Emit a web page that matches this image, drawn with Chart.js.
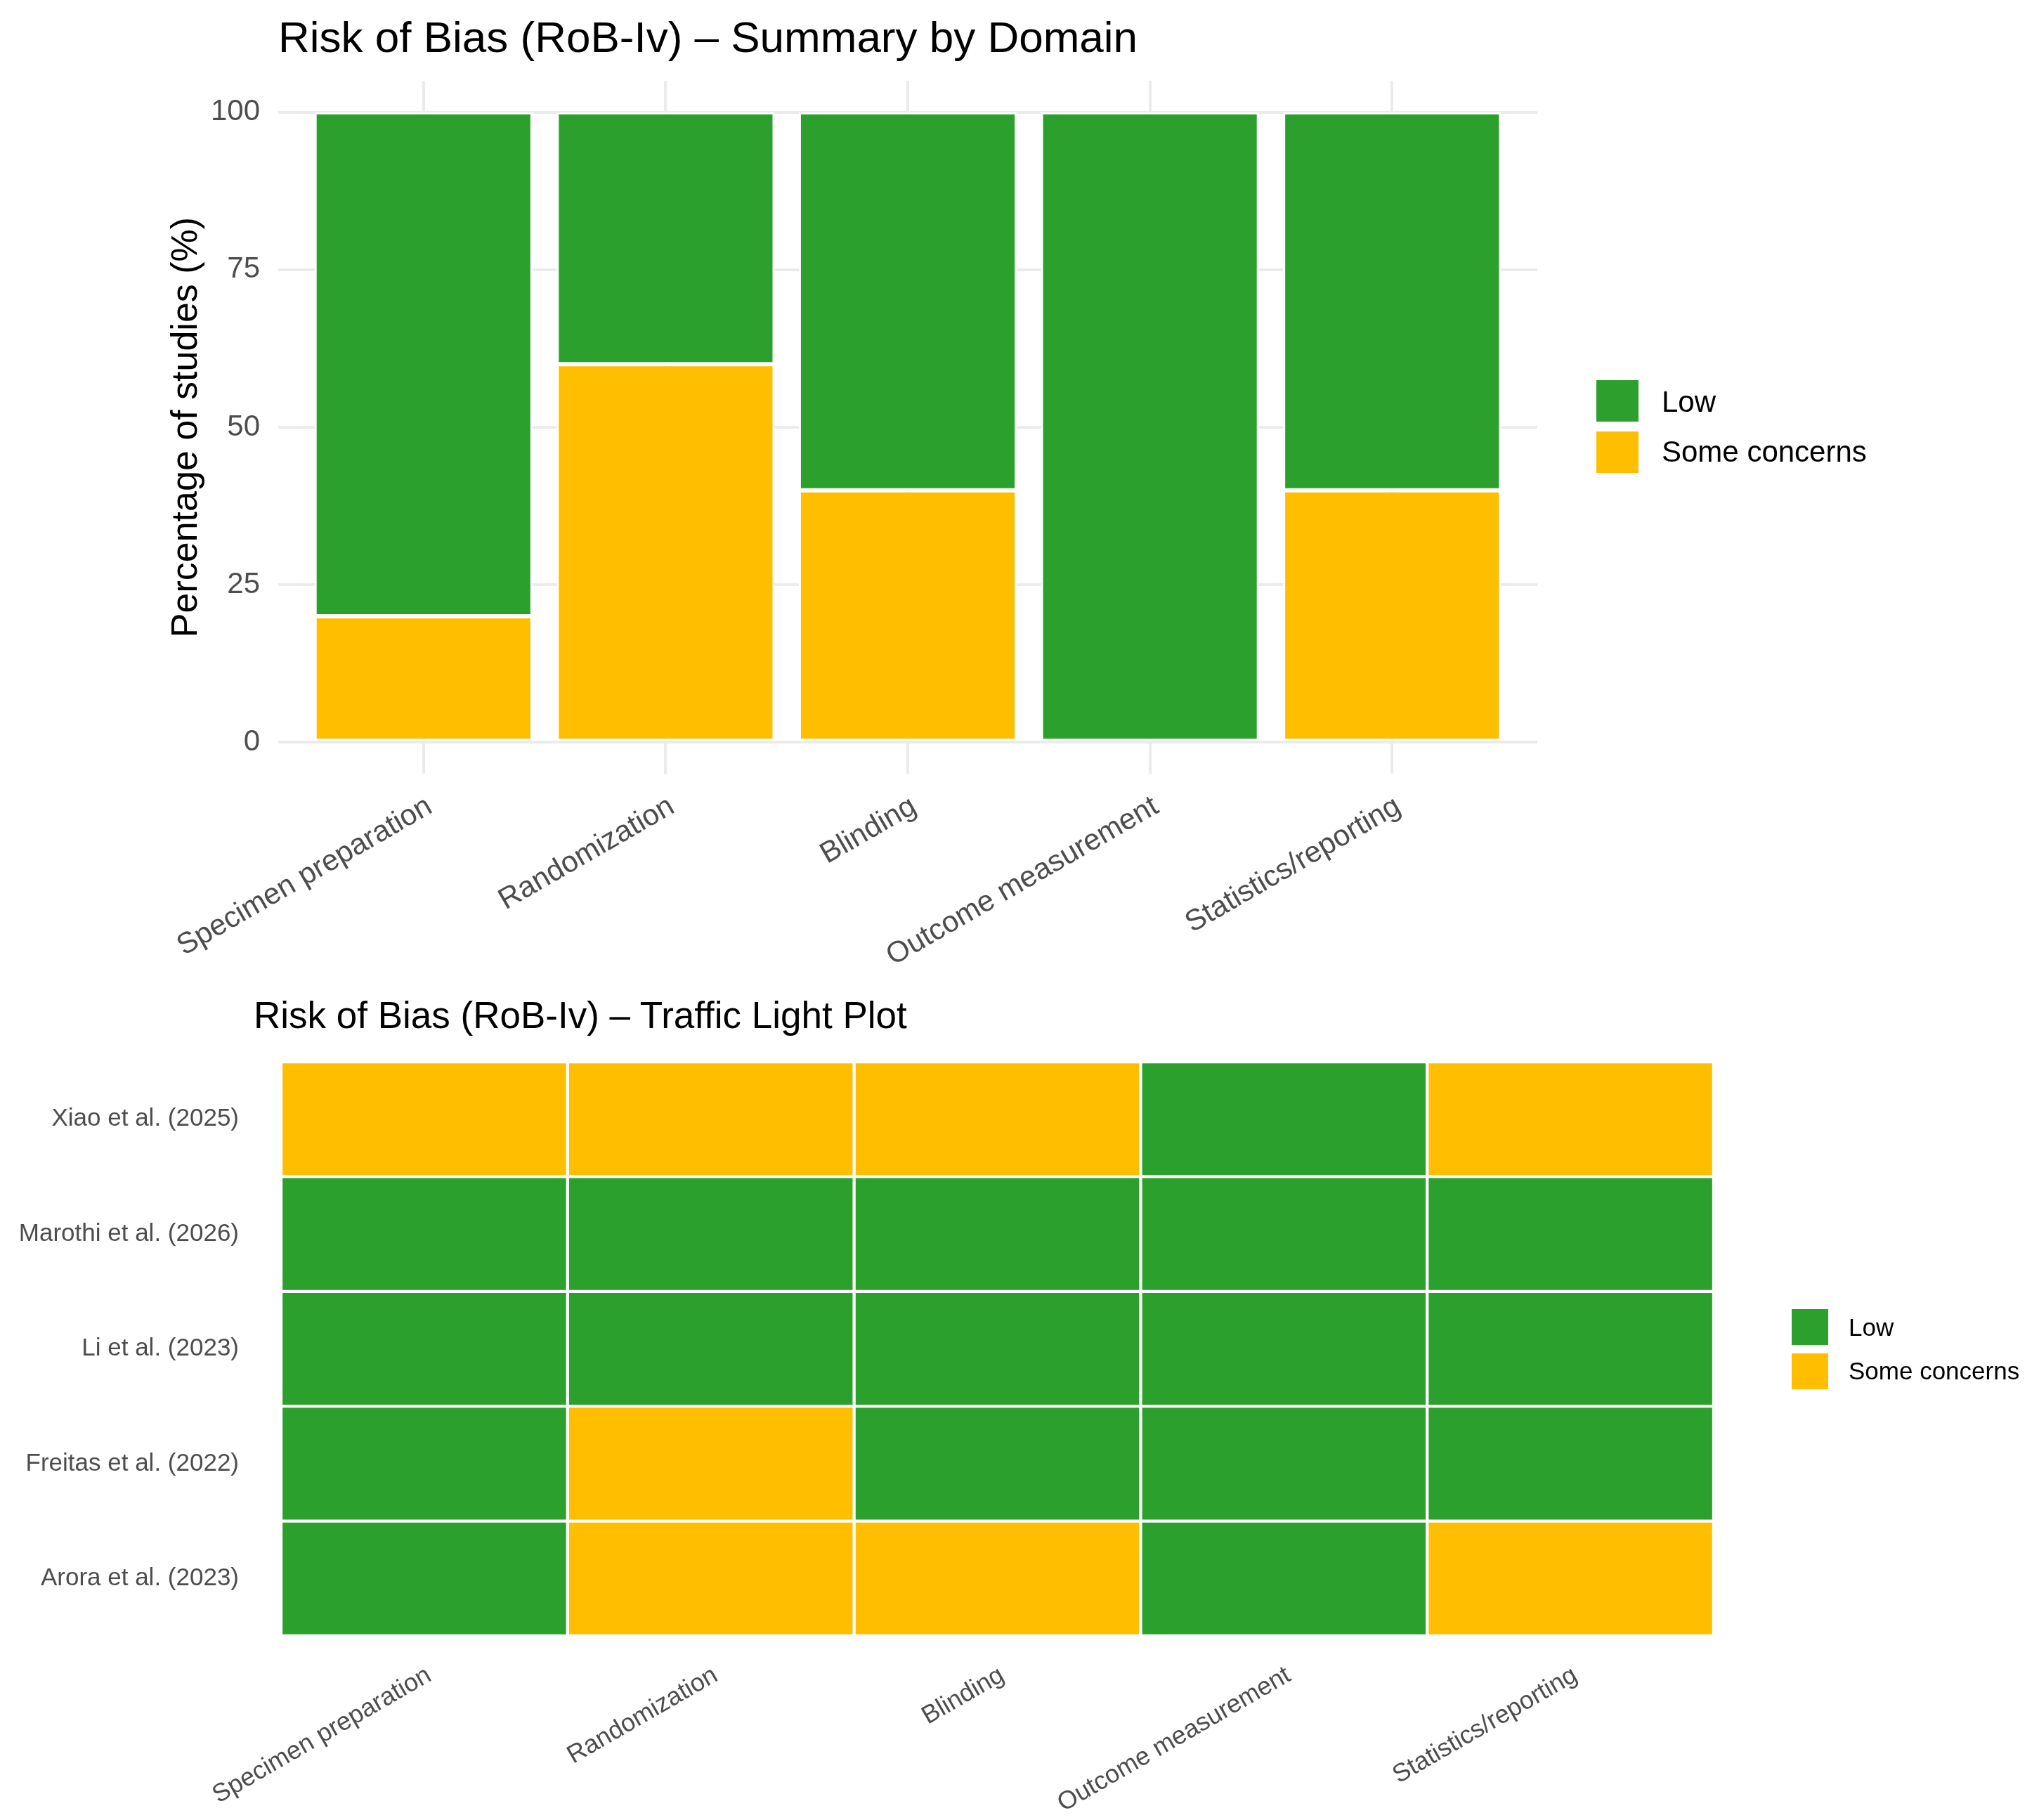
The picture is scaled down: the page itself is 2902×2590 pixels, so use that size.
<!DOCTYPE html>
<html>
<head>
<meta charset="utf-8">
<title>Risk of Bias (RoB-Iv)</title>
<script src="https://cdn.jsdelivr.net/npm/chart.js@4.4.1/dist/chart.umd.min.js"></script>
<style>
  html, body { margin: 0; padding: 0; background: #fff; }
  body { width: 2902px; height: 2590px; position: relative; overflow: hidden; font-family: 'Liberation Sans', Arial, sans-serif; }
  canvas { position: absolute; left: 0; }
  .ttl, .lab { position: absolute; line-height: 1; white-space: nowrap; color: #000; }
  .key { position: absolute; }
</style>
</head>
<body>

<div class="ttl" style="left:396px; top:22px; font-size:62px;">Risk of Bias (RoB-Iv) – Summary by Domain</div>
<canvas id="cSummary" width="2902" height="1380" style="top:0px;"></canvas>

<div class="key" style="left:2272px; top:541px; width:60px; height:59px; background:#2CA02C;"></div>
<div class="key" style="left:2272px; top:614px; width:60px; height:59px; background:#FFBF00;"></div>
<div class="lab" style="left:2365px; top:551px; font-size:42px;">Low</div>
<div class="lab" style="left:2365px; top:622px; font-size:42px;">Some concerns</div>

<div class="ttl" style="left:361px; top:1418px; font-size:53px;">Risk of Bias (RoB-Iv) – Traffic Light Plot</div>
<canvas id="cTraffic" width="2902" height="1210" style="top:1380px;"></canvas>

<div class="key" style="left:2550px; top:1863px; width:52px; height:51px; background:#2CA02C;"></div>
<div class="key" style="left:2550px; top:1926px; width:52px; height:51px; background:#FFBF00;"></div>
<div class="lab" style="left:2631px; top:1871px; font-size:35px;">Low</div>
<div class="lab" style="left:2631px; top:1933px; font-size:35px;">Some concerns</div>

<script>
// Domains (x axis of both panels)
const domains = ['Specimen preparation', 'Randomization', 'Blinding', 'Outcome measurement', 'Statistics/reporting'];
const domainPos = [1, 2, 3, 4, 5];

// Summary: percentage of studies per judgement
const pctSome = [20, 60, 40, 0, 40];
const pctLow = [80, 40, 60, 100, 60];
const pctTicks = [0, 25, 50, 75, 100];

// Traffic light: studies listed top to bottom, one judgement per domain
const studies = ['Xiao et al. (2025)', 'Marothi et al. (2026)', 'Li et al. (2023)', 'Freitas et al. (2022)', 'Arora et al. (2023)'];
const rowXiao    = ['Some concerns', 'Some concerns', 'Some concerns', 'Low', 'Some concerns'];
const rowMarothi = ['Low', 'Low', 'Low', 'Low', 'Low'];
const rowLi      = ['Low', 'Low', 'Low', 'Low', 'Low'];
const rowFreitas = ['Low', 'Some concerns', 'Low', 'Low', 'Low'];
const rowArora   = ['Low', 'Some concerns', 'Some concerns', 'Low', 'Some concerns'];
const judgements = [rowXiao, rowMarothi, rowLi, rowFreitas, rowArora];
const rowTicks = [0.5, 1.5, 2.5, 3.5, 4.5];

const GREEN = '#2CA02C';
const AMBER = '#FFBF00';
const GRID = '#EBEBEB';
const TXT = '#4D4D4D';

Chart.defaults.font.family = "'Liberation Sans', Arial, sans-serif";

const fillFor = j => (j === 'Low' ? GREEN : AMBER);

// Top: stacked percentage bars
new Chart(document.getElementById('cSummary'), {
    type: 'bar',
    data: {
        datasets: [
            { label: 'Some concerns', data: domainPos.map((x, i) => ({ x: x, y: pctSome[i] })), backgroundColor: AMBER },
            { label: 'Low', data: domainPos.map((x, i) => ({ x: x, y: pctLow[i] })), backgroundColor: GREEN }
        ]
    },
    options: {
        responsive: false,
        animation: false,
        datasets: { bar: { borderColor: '#FFFFFF', borderWidth: 3, borderSkipped: false, categoryPercentage: 0.9, barPercentage: 1.0 } },
        layout: { padding: { left: 0, top: 115, right: 714, bottom: 0 } },
        plugins: { legend: { display: false }, tooltip: { enabled: false } },
        scales: {
            x: {
                type: 'linear', stacked: true, min: 0.4, max: 5.6, offset: false,
                afterBuildTicks: s => { s.ticks = domainPos.map(v => ({ value: v })); },
                afterFit: s => { s.height = 279; },
                grid: { color: GRID, lineWidth: 4, drawTicks: false, offset: false },
                border: { display: false },
                ticks: {
                    callback: (v, i) => domains[i],
                    minRotation: 30, maxRotation: 30, autoSkip: false,
                    padding: 22, labelOffset: 9, color: TXT, font: { size: 42 }
                }
            },
            y: {
                type: 'linear', stacked: true, min: -5, max: 105,
                afterBuildTicks: s => { s.ticks = pctTicks.map(v => ({ value: v })); },
                afterFit: s => { s.width = 396; },
                grid: { color: GRID, lineWidth: 4, drawTicks: false },
                border: { display: false },
                ticks: { padding: 26, color: TXT, font: { size: 42 } },
                title: { display: true, text: 'Percentage of studies (%)', color: '#000', font: { size: 52 }, padding: { top: 234, bottom: 0 } }
            }
        }
    }
});

// Bottom: traffic light tiles, one stacked dataset per study (bottom row first)
const trafficSets = judgements.slice().reverse().map((row, k) => ({
    label: studies[studies.length - 1 - k],
    data: domainPos.map(x => ({ x: x, y: 1 })),
    backgroundColor: row.map(fillFor)
}));

new Chart(document.getElementById('cTraffic'), {
    type: 'bar',
    data: { datasets: trafficSets },
    options: {
        responsive: false,
        animation: false,
        datasets: { bar: { borderColor: '#FFFFFF', borderWidth: 2.5, borderSkipped: false, categoryPercentage: 1.0, barPercentage: 1.0 } },
        layout: { padding: { left: 0, top: 131, right: 463, bottom: 0 } },
        plugins: { legend: { display: false }, tooltip: { enabled: false } },
        scales: {
            x: {
                type: 'linear', stacked: true, min: 0.5, max: 5.5, offset: false,
                afterBuildTicks: s => { s.ticks = domainPos.map(v => ({ value: v })); },
                afterFit: s => { s.height = 262; },
                grid: { display: false, drawTicks: false, offset: false },
                border: { display: false },
                ticks: {
                    callback: (v, i) => domains[i],
                    minRotation: 30, maxRotation: 30, autoSkip: false,
                    padding: 35, labelOffset: 7, color: TXT, font: { size: 36 }
                }
            },
            y: {
                type: 'linear', stacked: true, min: 0, max: 5,
                afterBuildTicks: s => { s.ticks = rowTicks.map(v => ({ value: v })); },
                afterFit: s => { s.width = 400; },
                grid: { display: false, drawTicks: false },
                border: { display: false },
                ticks: { callback: (v, i) => studies[studies.length - 1 - i], padding: 60, color: TXT, font: { size: 35 } }
            }
        }
    }
});
</script>
</body>
</html>
